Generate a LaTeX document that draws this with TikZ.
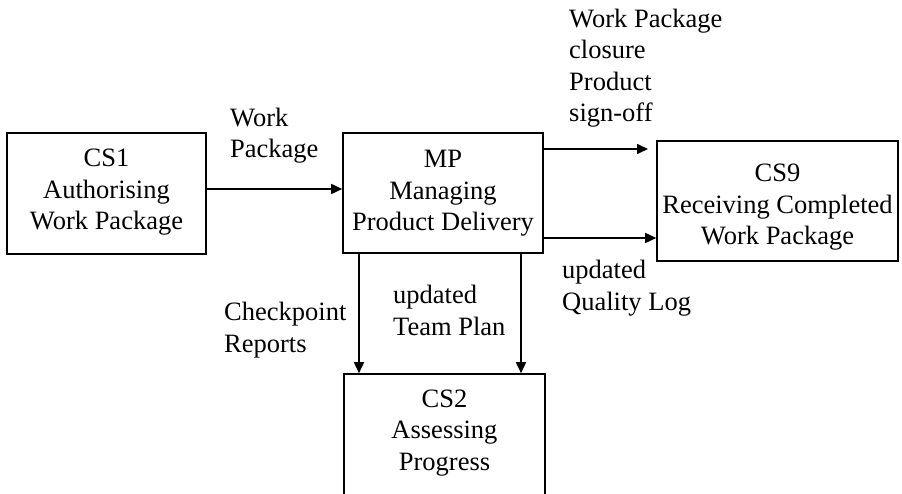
\documentclass[tikz,border=0pt]{standalone}
\usepackage{fontspec}
\setmainfont{Liberation Serif}
\usetikzlibrary{arrows.meta}
\begin{document}
\begin{tikzpicture}[x=1pt,y=-1pt,
  every node/.style={font=\fontsize{26.5}{31.5}\selectfont},
  procbox/.style={draw, line width=1.6pt, rectangle, inner sep=0pt},
  boxtext/.style={anchor=base, align=center, inner sep=0pt},
  flowlabel/.style={anchor=base west, align=left, inner sep=0pt},
  flow/.style={line width=1.6pt, -{Triangle[length=11pt,width=10pt]}}]
\useasboundingbox (0,0) rectangle (902,494);
\clip (0,0) rectangle (902,494);

% process boxes
\node[procbox, minimum width=199pt, minimum height=121pt] (cs1) at (106.5,193.5) {};
\node[procbox, minimum width=200pt, minimum height=120pt] (mp) at (443,193) {};
\node[procbox, minimum width=241pt, minimum height=120pt] (cs9) at (777.5,201) {};
\node[procbox, minimum width=201pt, minimum height=140pt] (cs2) at (444.5,444) {};

% box titles (anchored at the baseline of the last line)
\node[boxtext] (cs1t) at (106.5,230) {CS1\\Authorising\\Work Package};
\node[boxtext] (mpt) at (443,231) {MP\\Managing\\Product Delivery};
\node[boxtext] (cs9t) at (777.5,245) {CS9\\Receiving Completed\\Work Package};
\node[boxtext] (cs2t) at (444.5,470) {CS2\\Assessing\\Progress};

% free end of the sign-off arrow
\coordinate (signoffend) at (648,149);

% flows
\draw[flow] (cs1.east |- 0,189) -- (mp.west |- 0,189);
\draw[flow] (mp.east |- signoffend) -- (signoffend);
\draw[flow] (mp.east |- 0,238) -- (cs9.west |- 0,238);
\draw[flow] (mp.south -| 359,0) -- (cs2.north -| 359,0);
\draw[flow] (mp.south -| 521,0) -- (cs2.north -| 521,0);

% flow labels (anchored at the baseline of the last line)
\node[flowlabel] (lwp) at (230,158) {Work\\Package};
\node[flowlabel] (lclose) at (569,122) {Work Package\\closure\\Product\\sign-off};
\node[flowlabel] (lql) at (562,310) {updated\\Quality Log};
\node[flowlabel] (lcp) at (224,352) {Checkpoint\\Reports};
\node[flowlabel] (ltp) at (393,335) {updated\\Team Plan};
\end{tikzpicture}
\end{document}
